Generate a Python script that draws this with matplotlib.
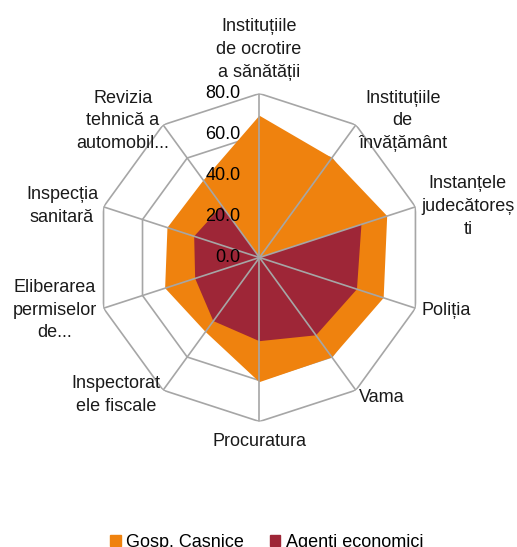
import numpy as np
import matplotlib.pyplot as plt
import matplotlib.transforms as mtransforms
from matplotlib.patches import Patch

plt.rcParams['font.family'] = ['Liberation Sans', 'DejaVu Sans']

categories = ["Instituțiile\nde ocrotire\na sănătății",
              "Instituțiile\nde\nînvățământ",
              "Instanțele\njudecătoreș\nti",
              "Poliția",
              "Vama",
              "Procuratura",
              "Inspectorat\nele fiscale",
              "Eliberarea\npermiselor\nde...",
              "Inspecția\nsanitară",
              "Revizia\ntehnică a\nautomobil..."]
gosp_casnice = [69.2, 60.1, 65.5, 63.7, 60.2, 60.8, 44.8, 48.4, 47.2, 46.5]
agenti_economici = [0.0, 0.0, 52.3, 50.0, 46.9, 40.8, 38.3, 33.0, 33.5, 31.2]
ticks = [0, 20, 40, 60, 80]

# label anchor points in figure fraction (x, y, ha)
label_pos = [(0.501, 0.909, "center"), (0.779, 0.779, "center"),
             (0.905, 0.623, "center"), (0.816, 0.433, "left"),
             (0.694, 0.274, "left"), (0.501, 0.192, "center"),
             (0.224, 0.278, "center"), (0.106, 0.433, "center"),
             (0.120, 0.623, "center"), (0.238, 0.779, "center")]

orange = "#EF820E"
red = "#9E2637"
grid_c = "#A6A6A6"

fig = plt.figure(figsize=(5.17, 5.47), dpi=100)
ax = fig.add_axes([0.1847, 0.2294, 0.6344, 0.5996], projection="polar")
ax.set_theta_zero_location("N")
ax.set_theta_direction(-1)
ax.set_ylim(0, 80)
ax.grid(False)
ax.spines["polar"].set_visible(False)
ax.set_xticks([])
ax.set_yticks([])
ax.patch.set_alpha(0)

n = len(categories)
theta = np.linspace(0, 2 * np.pi, n, endpoint=False)
theta_c = np.append(theta, theta[0])

# decagon rings
for t in ticks[1:]:
    ax.plot(theta_c, [t] * (n + 1), color=grid_c, lw=1.2, zorder=1)

ax.fill(theta_c, gosp_casnice + gosp_casnice[:1], color=orange, lw=0, zorder=2)
ax.fill(theta_c, agenti_economici + agenti_economici[:1], color=red, lw=0, zorder=2.5)

# spokes on top of the fills
for th in theta:
    ax.plot([th, th], [0, 80], color=grid_c, lw=1.2, zorder=3)

tick_tr = mtransforms.offset_copy(ax.transData, fig=fig, x=-19, y=0, units="dots")
for t in ticks:
    ax.text(0, t, "%.1f" % t, transform=tick_tr, ha="right", va="center",
            fontsize=13, color="#000000", zorder=4)

for lab, (x, y, ha) in zip(categories, label_pos):
    fig.text(x, y, lab, ha=ha, va="center", fontsize=13, linespacing=1.45,
             multialignment="center", color="#1a1a1a")

handles = [Patch(color=orange, label="Gosp. Casnice"),
           Patch(color=red, label="Agenti economici")]
fig.legend(handles=handles, loc="center", bbox_to_anchor=(0.516, 0.008), ncol=2,
           frameon=False, fontsize=13, handlelength=0.6, handleheight=0.6,
           handletextpad=0.3, columnspacing=1.4)

plt.savefig("out.png", dpi=100)
